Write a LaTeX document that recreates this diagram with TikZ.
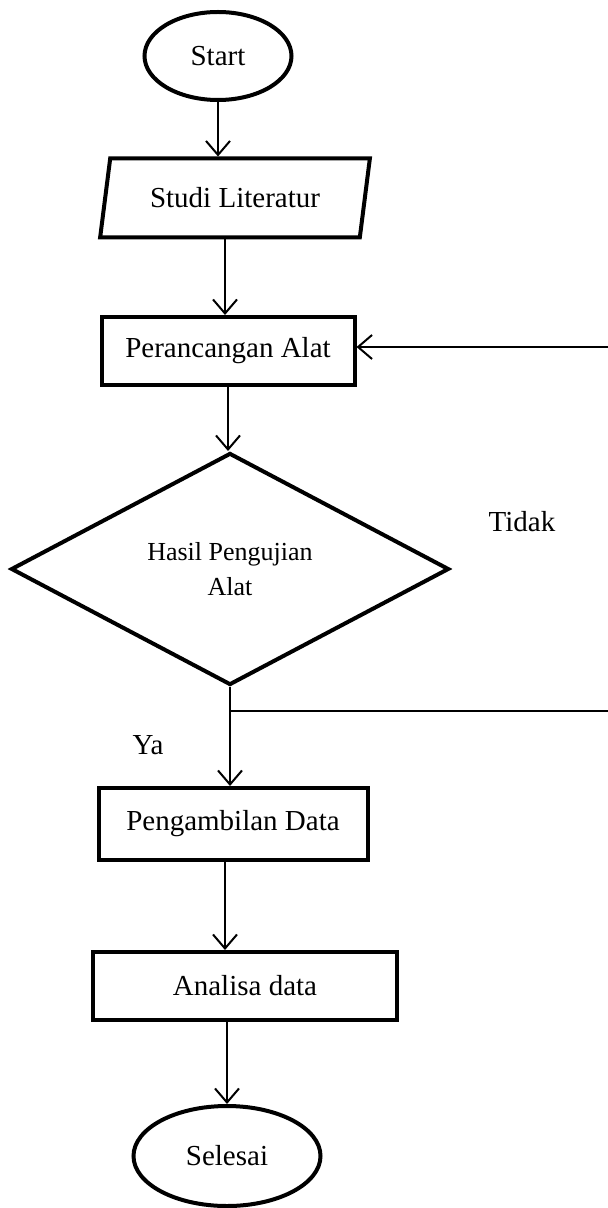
\documentclass[tikz,border=0pt]{standalone}
\usepackage{fontspec}
\setmainfont{Liberation Serif}
\usetikzlibrary{shapes.geometric, arrows.meta, positioning}

\tikzset{
    garis/.style={line width=1pt, -{Straight Barb[length=7pt,width=12pt,line width=1pt]}},
    kotak/.style={draw, line width=2pt, rectangle, align=center, font=\fontsize{14.5}{17}\selectfont},
    oval/.style={draw, line width=2pt, ellipse, inner sep=0pt, font=\fontsize{14.5}{17}\selectfont},
    label/.style={font=\fontsize{14.5}{17}\selectfont}
}

\begin{document}
\begin{tikzpicture}[x=0.5pt, y=-0.5pt]

\useasboundingbox (0,0) rectangle (608,1208);

% Start
\node[oval, minimum width=73.5pt, minimum height=44pt] (start) at (218,56) {Start};

% Studi Literatur (Parallelogram)
\node[kotak, trapezium, trapezium left angle=78, trapezium right angle=102, trapezium stretches=true,
      minimum width=135pt, minimum height=39.5pt, inner xsep=2pt] (studi) at (235,198) {Studi Literatur};

% Perancangan Alat
\node[kotak, minimum width=126.5pt, minimum height=34pt] (rancang) at (228,351) {Perancangan Alat};

% Hasil Pengujian Alat (Diamond)
\node[draw, diamond, line width=2pt, minimum width=219pt, minimum height=116pt, inner sep=0pt,
      align=center, font=\fontsize{13}{17.5}\selectfont] (hasil) at (230,569) {Hasil Pengujian\\Alat};

% Pengambilan Data
\node[kotak, minimum width=134.5pt, minimum height=36pt] (ambil) at (233,824) {Pengambilan Data};

% Analisa data
\node[kotak, minimum width=152pt, minimum height=34pt] (analisa) at (245,986) {Analisa data};

% Selesai
\node[oval, minimum width=93.5pt, minimum height=50pt] (selesai) at (227,1156) {Selesai};

% Labels
\node[label] (tidak) at (522,522) {Tidak};
\node[label] (ya) at (148,745) {Ya};

% Arrows
\draw[garis] (start.south) -- (start.south |- studi.north);
\draw[garis] (225,237) -- (225,237 |- rancang.north);
\draw[garis] (rancang.south) -- (rancang.south |- hasil.north);
\draw[garis] (hasil.south) -- (hasil.south |- ambil.north);
\draw[garis] (225,860) -- (225,860 |- analisa.north);
\draw[garis] (selesai.north |- analisa.south) -- (selesai.north);

% Loop back (Tidak)
\coordinate (kananBawah) at (608,711);
\coordinate (kananAtas) at (608,347);
\draw[line width=0.6pt] (hasil.south |- kananBawah) -- (kananBawah);
\draw[garis] (kananAtas) -- (rancang.east |- kananAtas);

\end{tikzpicture}
\end{document}
